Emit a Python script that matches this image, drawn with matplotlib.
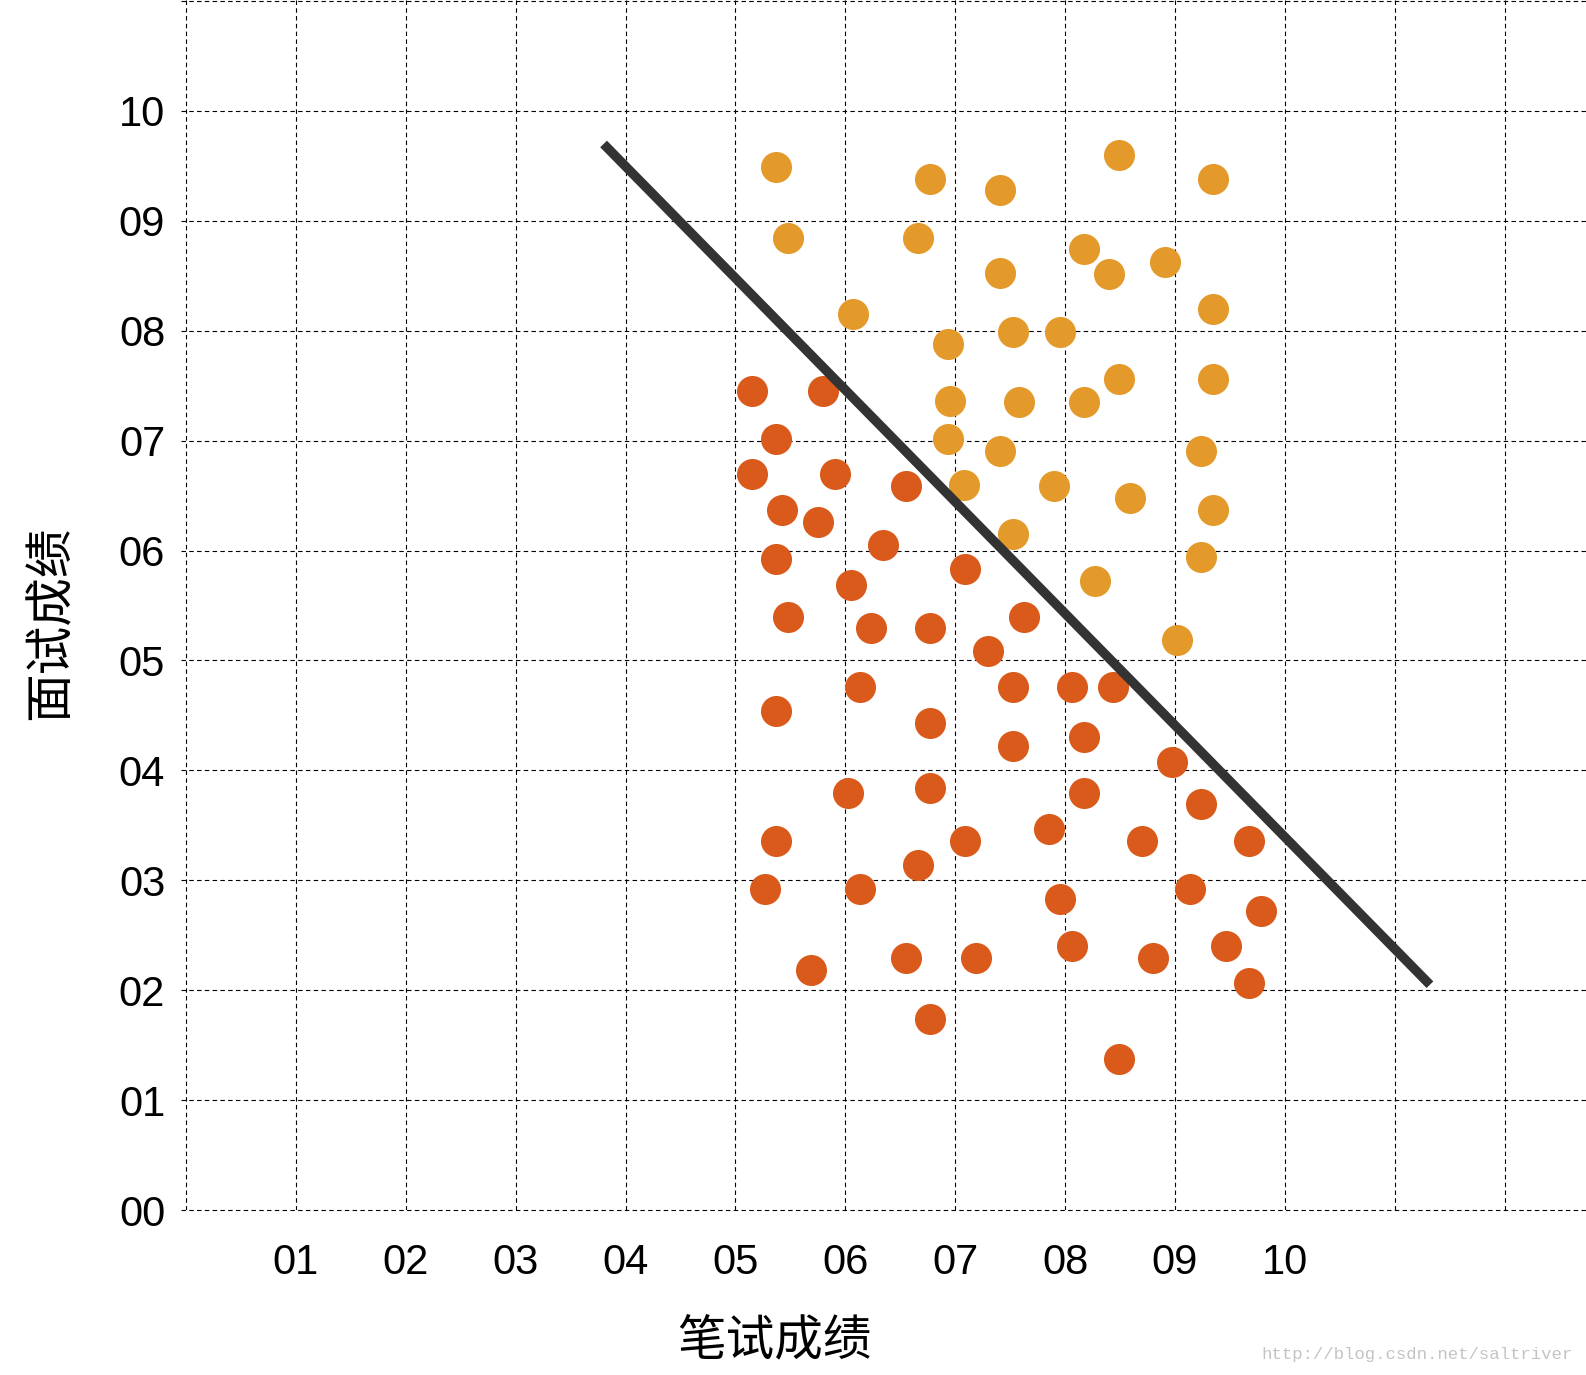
import matplotlib
matplotlib.use("Agg")
import matplotlib.pyplot as plt


# data: (笔试, 面试)
pass_x = [5.37, 5.48, 6.77, 6.66, 7.41, 7.41, 8.49, 9.35, 8.17, 8.40, 8.91,
          6.07, 6.93, 7.53, 7.95, 9.35, 6.95, 7.58, 8.17, 8.49, 9.35,
          6.93, 7.41, 7.08, 7.90, 8.59, 9.24, 9.35, 7.53, 9.24, 8.27, 9.02]
pass_y = [9.49, 8.84, 9.38, 8.84, 9.28, 8.53, 9.60, 9.38, 8.74, 8.52, 8.63,
          8.15, 7.88, 7.99, 7.99, 8.20, 7.36, 7.35, 7.35, 7.56, 7.56,
          7.02, 6.91, 6.60, 6.59, 6.48, 6.91, 6.37, 6.15, 5.94, 5.72, 5.19]

fail_x = [5.15, 5.80, 5.37, 5.15, 5.91, 5.42, 5.75, 6.55, 6.34, 5.37, 6.05,
          7.09, 5.48, 6.23, 6.77, 7.63, 7.30, 6.13, 7.53, 8.06, 8.44, 5.37,
          6.77, 7.53, 8.17, 8.97, 6.02, 6.77, 8.17, 9.24, 5.37, 7.09, 7.85,
          8.70, 9.67, 5.27, 6.13, 6.66, 7.95, 9.14, 9.78, 5.69, 6.55, 7.19,
          8.06, 8.80, 9.46, 9.67, 6.77, 8.49]
fail_y = [7.45, 7.45, 7.02, 6.70, 6.70, 6.37, 6.26, 6.59, 6.05, 5.92, 5.69,
          5.83, 5.40, 5.30, 5.30, 5.40, 5.09, 4.76, 4.76, 4.76, 4.76, 4.54,
          4.43, 4.22, 4.30, 4.08, 3.79, 3.84, 3.79, 3.69, 3.36, 3.36, 3.47,
          3.36, 3.36, 2.92, 2.92, 3.14, 2.83, 2.92, 2.72, 2.18, 2.29, 2.29,
          2.40, 2.29, 2.40, 2.07, 1.74, 1.37]

# 分界线
line_x = [3.80, 11.32]
line_y = [9.70, 2.05]

x_ticks = list(range(1, 11))
x_labels = ["01", "02", "03", "04", "05", "06", "07", "08", "09", "10"]
y_ticks = list(range(0, 11))
y_labels = ["00", "01", "02", "03", "04", "05", "06", "07", "08", "09", "10"]

grid_x = list(range(0, 13))
grid_y = list(range(0, 12))


fig = plt.figure(figsize=(15.86, 13.75), dpi=100)
ax = fig.add_axes([180.5 / 1586, 165 / 1375, 1 - 180.5 / 1586, 1 - 165 / 1375])

ax.scatter(pass_x, pass_y, s=500, color="#E39A2A", linewidths=0, zorder=3)
ax.scatter(fail_x, fail_y, s=500, color="#D95A1A", linewidths=0, zorder=3)
ax.plot(line_x, line_y, color="#333333", linewidth=6.8,
        solid_capstyle="butt", zorder=4)

ax.set_xlim(-0.05, 12.74)
ax.set_ylim(0, 11.01)

# 虚线网格
for gx in grid_x:
    ax.axvline(gx, color="black", linestyle=(0, (4, 3)), linewidth=0.8,
               zorder=1)
for gy in grid_y:
    ax.axhline(gy, color="black", linestyle=(0, (4, 3)), linewidth=0.8,
               zorder=1, clip_on=False)

ax.set_xticks(x_ticks)
ax.set_xticklabels(x_labels, fontsize=30, family="Liberation Sans")
ax.set_yticks(y_ticks)
ax.set_yticklabels(y_labels, fontsize=30, family="Liberation Sans")
ax.tick_params(axis="x", length=0, pad=24)
ax.tick_params(axis="y", length=0, pad=11)

for s in ax.spines.values():
    s.set_visible(False)

fig.text(774 / 1586, 1 - 1342 / 1375, "笔试成绩", fontsize=35,
         family="Noto Sans CJK SC", ha="center", va="center")
fig.text(51 / 1586, 1 - 623 / 1375, "面试成绩", fontsize=35,
         family="Noto Sans CJK SC", ha="center", va="center", rotation=90)

fig.text(1573 / 1586, 1 - 1355 / 1375, "http://blog.csdn.net/saltriver",
         fontsize=12.5, family="Liberation Mono", color="#c4c4c4",
         ha="right", va="center")

fig.savefig("out.png", dpi=100)
